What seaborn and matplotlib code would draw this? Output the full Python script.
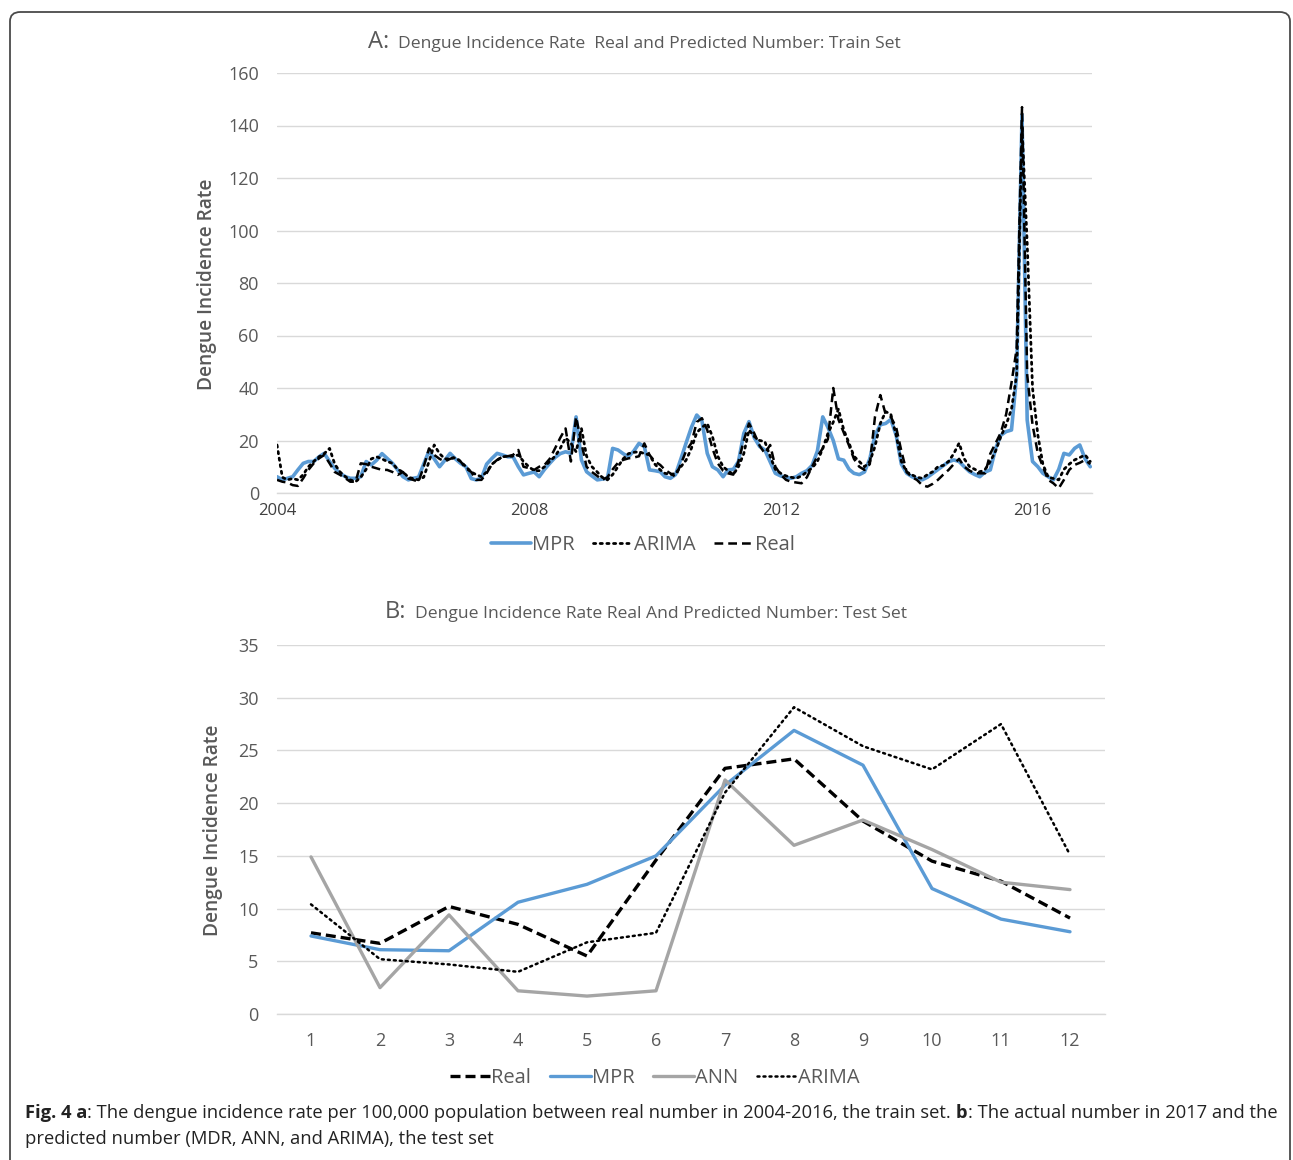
import numpy as np
import pandas as pd
import seaborn as sns
import matplotlib.pyplot as plt
import matplotlib.dates as mdates
from matplotlib.patches import FancyBboxPatch

# --- train set, monthly 2004-2016 ---
real_train = [
    5, 4.3, 4, 3, 2.7, 5.6, 8.8, 11.3, 13.2, 14.5, 11.3, 8,
    6.9, 5.6, 4.3, 4.3, 11.3, 11, 10, 9.4, 8.8, 8.8, 8, 6.9,
    8, 5.5, 5, 4.3, 10, 17, 14.5, 13, 12, 13, 13.8, 12,
    9.4, 8, 5, 5, 7.5, 11, 12.6, 13.8, 14, 14.5, 16.4, 10,
    9.5, 8.8, 10, 10.7, 13, 17, 21, 24.6, 12, 29, 19, 10,
    8, 6.5, 5, 6, 9, 11.5, 12.6, 13.2, 13.5, 14, 18.9, 14.5,
    12, 10.7, 8.8, 7.5, 6.2, 11, 16, 19, 27, 28.5, 24, 17,
    11.3, 8.5, 7.5, 7, 12, 20, 26.5, 22.7, 18, 15.1, 18.3, 10,
    7, 5, 4.3, 4, 3.7, 6, 10, 14, 17, 20.5, 40, 28,
    23, 18, 13, 10, 8.8, 11, 29, 37.3, 30, 29, 25, 16,
    8, 6, 5, 3, 2.4, 3.5, 5, 7, 8.8, 11, 13, 10,
    8.5, 7.5, 7.5, 7.5, 15, 19, 23, 30, 42, 55, 147, 45,
    26, 15, 10, 5, 3.7, 1.8, 5, 8.8, 10.7, 11.5, 12.6, 11,
]
mpr_train = [
    6.2, 5, 5.6, 6.2, 8.8, 11.3, 12, 12, 13.8, 15.1, 12, 9.4,
    7.5, 6.2, 5.6, 5.6, 6.2, 12, 10.7, 12.5, 15, 13.2, 11.3, 8.8,
    6.2, 5, 5.6, 6, 11, 16, 13, 10, 12.5, 15.1, 13, 11.3,
    10, 5.5, 5, 5.6, 11, 13.2, 15.1, 14.5, 13.8, 13.8, 10, 6.9,
    7.5, 8, 6.2, 9, 11.3, 13.5, 15, 15.7, 15.1, 29, 12.6, 8.1,
    6.5, 5, 5.3, 5.6, 17, 16.4, 15, 13.8, 16, 18.9, 17.7, 8.8,
    8.5, 8.1, 6.2, 5.6, 7, 13, 19, 25, 29.7, 27.5, 15.1, 10,
    8.8, 6.2, 8.8, 9, 12, 22.7, 27.2, 21, 17.7, 16.4, 11.9, 7.5,
    6.5, 6, 5.6, 6.2, 7.5, 8.5, 10.5, 16, 29, 25, 20, 13,
    12.5, 9, 7.5, 7, 8, 13, 22, 26, 26.5, 28, 22, 11,
    7.5, 6.2, 5.5, 5, 6, 7.5, 9, 10.5, 11.9, 12.6, 12, 10,
    8.1, 7, 6.2, 8, 8.8, 17, 22, 23.4, 24, 45, 144, 27.8,
    12, 10, 7.5, 6.2, 5, 9, 15.1, 14.5, 17, 18.3, 13, 10,
]
arima_train = [
    18.3, 6, 5, 5.5, 5, 7, 10, 12, 13.8, 15, 17, 11,
    8, 6.2, 5, 4.3, 6, 9, 13, 13.8, 13, 12, 11.3, 9,
    8, 6, 5.5, 5, 6, 12, 18.3, 15, 13, 13, 13.5, 12,
    10, 8, 7, 6.2, 8, 11, 12.5, 13.8, 14, 14, 14.5, 12,
    10, 8.5, 8.5, 10, 12, 14, 17, 21, 19, 15.7, 24.6, 14,
    10, 8, 6, 5, 7, 10, 13, 15, 15.5, 15.7, 15, 14.5,
    11, 8.8, 7.5, 7, 7.5, 10, 12.5, 17, 23, 25, 26.5, 21.5,
    14, 10, 8.5, 7, 10, 15, 24, 21.5, 20, 19.6, 14, 9,
    7.5, 6.5, 6, 5.6, 6.5, 8, 9.5, 12, 17, 22.7, 27, 32,
    24, 18.9, 14, 12, 10, 12, 17.7, 26.5, 31, 30, 22, 12,
    8, 6.9, 6, 5.6, 7, 8.1, 10, 10.5, 12, 15, 19, 13,
    10, 9, 8, 9, 12, 16, 21.5, 26, 32, 45, 140, 95,
    40, 22, 11, 6, 5.5, 5, 9, 11, 12.6, 13.5, 14.5, 12,
]
train_dates = pd.date_range("2004-01-01", periods=len(real_train), freq="MS")

# --- test set, 2017 months 1-12 ---
months = list(range(1, 13))
real_test = [7.7, 6.7, 10.2, 8.5, 5.5, 14.6, 23.3, 24.2, 18.3, 14.5, 12.6, 9.1]
mpr_test = [7.4, 6.1, 6.0, 10.6, 12.3, 15.0, 21.7, 26.9, 23.6, 11.9, 9.0, 7.8]
ann_test = [14.9, 2.5, 9.4, 2.2, 1.7, 2.2, 22.2, 16.0, 18.4, 15.6, 12.5, 11.8]
arima_test = [10.4, 5.2, 4.7, 4.0, 6.8, 7.7, 21.0, 29.1, 25.4, 23.2, 27.5, 15.1]

BLUE = "#5B9BD5"
GRAY_LINE = "#A5A5A5"
TXT = "#595959"
GRID = "#D9D9D9"

sns.set_style("white")
plt.rcParams["font.family"] = ["Open Sans", "DejaVu Sans"]

W, H = 1293, 1160
fig = plt.figure(figsize=(W / 100, H / 100), dpi=100)


def fx(px):
    return px / W


def fy(py):
    return 1 - py / H


dash = (0, (3.5, 2))
dot = (0, (0.8, 1.6))

# ---------------- A: train set ----------------
ax1 = fig.add_axes([fx(277), fy(493), fx(1092) - fx(277), fy(73) - fy(493)])
sns.lineplot(x=train_dates, y=mpr_train, ax=ax1, color=BLUE, lw=2.6, label="MPR")
sns.lineplot(x=train_dates, y=arima_train, ax=ax1, color="black", lw=2.0,
             linestyle=dot, label="ARIMA", dash_capstyle="round")
sns.lineplot(x=train_dates, y=real_train, ax=ax1, color="black", lw=1.8,
             linestyle=dash, label="Real")
ax1.set_ylim(0, 160)
ax1.set_yticks(range(0, 161, 20))
ax1.set_xlim(train_dates[0], train_dates[-1] + pd.Timedelta(days=10))
ax1.xaxis.set_major_locator(mdates.YearLocator(4))
ax1.xaxis.set_major_formatter(mdates.DateFormatter("%Y"))
ax1.tick_params(axis="y", length=0, pad=13, labelsize=13, labelcolor=TXT)
ax1.tick_params(axis="x", length=4, color=GRID, pad=3, labelsize=12, labelcolor="#404040")

# ---------------- B: test set ----------------
ax2 = fig.add_axes([fx(276.5), fy(1014), fx(1104.5) - fx(276.5), fy(645) - fy(1014)])
sns.lineplot(x=months, y=real_test, ax=ax2, color="black", lw=2.4,
             linestyle=(0, (3, 1.5)), label="Real")
sns.lineplot(x=months, y=mpr_test, ax=ax2, color=BLUE, lw=2.4, label="MPR")
sns.lineplot(x=months, y=ann_test, ax=ax2, color=GRAY_LINE, lw=2.4, label="ANN")
sns.lineplot(x=months, y=arima_test, ax=ax2, color="black", lw=1.8,
             linestyle=dot, label="ARIMA", dash_capstyle="round")
ax2.set_ylim(0, 35)
ax2.set_yticks(range(0, 36, 5))
ax2.set_xlim(0.5, 12.5)
ax2.set_xticks(months)
ax2.tick_params(axis="y", length=0, pad=13, labelsize=13, labelcolor=TXT)
ax2.tick_params(axis="x", length=0, pad=13, labelsize=13, labelcolor=TXT)

for ax in (ax1, ax2):
    ax.set_xlabel("")
    ax.set_ylabel("")
    ax.grid(axis="y", color=GRID, lw=1)
    ax.grid(axis="x", visible=False)
    for s in ("top", "right", "left"):
        ax.spines[s].set_visible(False)
    ax.spines["bottom"].set_color(GRID)
    ax.spines["bottom"].set_linewidth(1)
    ax.set_axisbelow(True)

h1, l1 = ax1.get_legend_handles_labels()
ax1.get_legend().remove()
fig.legend(h1, l1, loc="center", bbox_to_anchor=(fx(643), fy(545)), ncol=3,
           frameon=False, fontsize=14.5, handlelength=2.0, handletextpad=0.05,
           columnspacing=0.9, labelcolor=TXT)
h2, l2 = ax2.get_legend_handles_labels()
ax2.get_legend().remove()
fig.legend(h2, l2, loc="center", bbox_to_anchor=(fx(655), fy(1078)), ncol=4,
           frameon=False, fontsize=14.5, handlelength=2.0, handletextpad=0.05,
           columnspacing=0.95, labelcolor=TXT)

# y labels
fig.text(fx(207), fy(284), "Dengue Incidence Rate", rotation=90, ha="center",
         va="center", fontsize=13.8, color=TXT, fontweight="semibold")
fig.text(fx(213), fy(830), "Dengue Incidence Rate", rotation=90, ha="center",
         va="center", fontsize=13.8, color=TXT, fontweight="semibold")

renderer = fig.canvas.get_renderer()


def runs(x0, y, parts, **common):
    x = fx(x0)
    for s, kw in parts:
        t = fig.text(x, fy(y), s, va="baseline", **common, **kw)
        x += t.get_window_extent(renderer).width / W


# titles
runs(368, 48, [("A:", dict(fontsize=17)),
               ("  Dengue Incidence Rate  Real and Predicted Number: Train Set", dict(fontsize=12.6))],
     color=TXT)
runs(385, 618, [("B:", dict(fontsize=17)),
                ("  Dengue Incidence Rate Real And Predicted Number: Test Set", dict(fontsize=12.6))],
     color=TXT)

# caption
cap = dict(fontsize=13.2, color="#222222")
runs(25, 1118, [("Fig. 4 a", dict(fontweight="bold")),
                (": The dengue incidence rate per 100,000 population between real number in 2004-2016, the train set. ", {}),
                ("b", dict(fontweight="bold")),
                (": The actual number in 2017 and the", {})], **cap)
runs(25, 1144, [("predicted number (MDR, ANN, and ARIMA), the test set", {})], **cap)

# rounded frame around the figure
fig.patches.append(FancyBboxPatch((fx(10), -0.05), fx(1290) - fx(10), fy(12) + 0.05,
                                  boxstyle="round,pad=0,rounding_size=0.008",
                                  transform=fig.transFigure, fill=False,
                                  ec="#4a4a4a", lw=1.3))

fig.savefig("out.png", dpi=100)
